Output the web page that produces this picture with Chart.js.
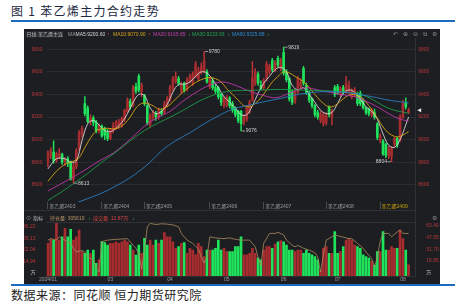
<!DOCTYPE html>
<html>
<head>
<meta charset="utf-8">
<script src="https://cdn.jsdelivr.net/npm/chart.js@4.4.1/dist/chart.umd.min.js"></script>
<style>
  html, body { margin: 0; padding: 0; background: #fff; width: 467px; height: 305px; overflow: hidden; position: relative; }
  #title { position: absolute; left: 11px; top: 4px; font: 12px/14px "Noto Sans CJK SC"; letter-spacing: 1.3px; color: #1b2840; white-space: nowrap; }
  #source { position: absolute; left: 11px; top: 288px; font: 12px/14px "Noto Sans CJK SC"; letter-spacing: 0.5px; color: #222; white-space: nowrap; }
  .rule { position: absolute; left: 11px; width: 444px; height: 2px; background: #1b6cc0; }
  #panel { position: absolute; left: 24px; top: 29px; width: 416px; height: 255px; background: #1d1e22; }
  .line { position: absolute; background: #303137; }
  canvas { position: absolute; }
  #tiny { position: absolute; left: 0; top: 0; width: 934px; height: 610px; transform: scale(0.5); transform-origin: 0 0;
          font-family: "Liberation Sans", "Noto Sans CJK SC"; font-size: 10px; white-space: nowrap; pointer-events: none; }
  #tiny span { position: absolute; line-height: 12px; }
  #tiny .ico { font-family: "DejaVu Sans"; font-size: 12px; color: #8c8c8c; }
</style>
</head>
<body>
<div id="title">图 1 苯乙烯主力合约走势</div>
<div class="rule" style="top:20px"></div>
<div id="panel"></div>
<div class="line" style="left:24px;top:210px;width:392px;height:1px"></div>
<div class="line" style="left:46px;top:222px;width:370px;height:1px"></div>
<div class="line" style="left:415px;top:38px;width:1px;height:238px"></div>
<canvas id="main" width="416" height="179" style="left:24px;top:38px"></canvas>
<canvas id="vol" width="416" height="62" style="left:24px;top:222px"></canvas>
<div class="rule" style="top:284px"></div>
<div id="source">数据来源：同花顺 恒力期货研究院</div>

<div id="tiny">
  <div style="position:absolute;left:50px;top:63px;width:76px;height:12px;background:#2a2b31;border-radius:2px"></div>
  <span style="left:53px;top:62.6px;color:#b5b5b5">日线 苯乙烯主连</span>
  <span style="left:136px;top:62.6px;color:#9a9a9a">MA</span>
  <span style="left:151px;top:62.6px;color:#d5d5d5">MA5:9200.60</span>
  <span style="left:214px;top:62.6px;color:#e04848">↑</span>
  <span style="left:226px;top:62.6px;color:#d6a51c">MA10:9070.90</span>
  <span style="left:296px;top:62.6px;color:#e04848">↑</span>
  <span style="left:306px;top:62.6px;color:#c23fae">MA20:9165.85</span>
  <span style="left:376px;top:62.6px;color:#25d05a">↓</span>
  <span style="left:384px;top:62.6px;color:#25a552">MA30:9233.93</span>
  <span style="left:455px;top:62.6px;color:#25d05a">↓</span>
  <span style="left:464px;top:62.6px;color:#2f8ad0">MA60:9325.88</span>
  <span style="left:534px;top:62.6px;color:#25d05a">↓</span>
  <span class="ico" style="left:786px;top:62px">↶</span>
  <span class="ico" style="left:806px;top:62px">⊕</span>
  <span class="ico" style="left:826px;top:62px">⊖</span>
  <span class="ico" style="left:846px;top:62px">⧉</span>
  <span class="ico" style="left:864px;top:62px">⚙</span>

  <span class="ico" style="left:52px;top:430px">⊙</span>
  <span style="left:66px;top:430.6px;color:#bdbdbd">指标</span>
  <span style="left:100px;top:430.6px;color:#b9996a">持仓量: 305619</span>
  <span style="left:176px;top:430.6px;color:#25d05a">↓</span>
  <span style="left:186px;top:430.6px;color:#d84444">成交量: 12.87万</span>
  <span style="left:264px;top:430.6px;color:#25d05a">↓</span>
  <span class="ico" style="left:864px;top:430px">⚙</span>
</div>

<script>
// daily OHLC, 2024-01-23 .. 2024-08-05 (trading-day index 0..127)
const opens = [
  8800, 8860, 8890, 8820, 8850, 8870, 8800, 8830, 8800, 8650, 8760, 8920, 9050, 9320, 9280, 9160,
  9190, 9150, 9080, 9120, 9100, 9060, 9010, 9080, 9110, 9120, 9130, 9180, 9250, 9340, 9300, 9470,
  9560, 9430, 9390, 9300, 9130, 9200, 9230, 9200, 9250, 9240, 9300, 9350, 9450, 9520, 9540, 9430,
  9500, 9450, 9520, 9500, 9560, 9540, 9600, 9600, 9600, 9470, 9520, 9460, 9460, 9400, 9300, 9310,
  9370, 9320, 9280, 9250, 9250, 9150, 9180, 9250, 9350, 9500, 9580, 9480, 9460, 9540, 9600, 9700,
  9610, 9720, 9630, 9770, 9600, 9540, 9420, 9340, 9420, 9470, 9630, 9480, 9420, 9360, 9300, 9240,
  9170, 9140, 9150, 9290, 9200, 9460, 9470, 9400, 9460, 9420, 9420, 9380, 9400, 9400, 9410, 9350,
  9280, 9270, 9220, 9240, 9140, 8990, 8990, 8960, 8860, 8850, 8960, 9010, 8990, 9200, 9330, 9240
];
const closes = [
  8880, 8900, 8810, 8870, 8880, 8800, 8820, 8790, 8650, 8760, 8900, 9060, 9100, 9230, 9160, 9190,
  9150, 9080, 9120, 9030, 9040, 9010, 9090, 9120, 9150, 9160, 9190, 9260, 9350, 9290, 9460, 9430,
  9440, 9480, 9320, 9150, 9210, 9240, 9200, 9260, 9230, 9320, 9360, 9460, 9540, 9560, 9500, 9490,
  9440, 9530, 9560, 9580, 9670, 9610, 9650, 9700, 9510, 9530, 9460, 9430, 9380, 9330, 9360, 9370,
  9300, 9260, 9220, 9170, 9140, 9200, 9280, 9330, 9550, 9600, 9500, 9450, 9520, 9670, 9650, 9620,
  9680, 9660, 9700, 9590, 9530, 9360, 9330, 9420, 9540, 9510, 9500, 9420, 9350, 9300, 9220, 9200,
  9230, 9220, 9210, 9220, 9250, 9400, 9420, 9450, 9420, 9500, 9480, 9430, 9440, 9320, 9320, 9280,
  9240, 9230, 9260, 9200, 9020, 9030, 8870, 8860, 8920, 8920, 9010, 8950, 9200, 9320, 9290, 9260
];
const highs = [
  8900, 8930, 8990, 8890, 8920, 8880, 8840, 8850, 8810, 8790, 8920, 9080, 9120, 9380, 9300, 9220,
  9210, 9170, 9140, 9130, 9110, 9090, 9100, 9150, 9170, 9180, 9200, 9270, 9370, 9360, 9480, 9500,
  9580, 9500, 9400, 9310, 9230, 9260, 9250, 9280, 9270, 9340, 9380, 9480, 9560, 9600, 9560, 9510,
  9510, 9550, 9580, 9600, 9690, 9640, 9680, 9780, 9620, 9550, 9540, 9490, 9470, 9410, 9380, 9390,
  9380, 9340, 9290, 9260, 9260, 9220, 9300, 9350, 9690, 9630, 9600, 9520, 9540, 9690, 9670, 9720,
  9700, 9740, 9720, 9819, 9620, 9550, 9440, 9440, 9560, 9540, 9650, 9500, 9430, 9370, 9310, 9260,
  9250, 9240, 9240, 9300, 9270, 9480, 9490, 9470, 9480, 9560, 9520, 9450, 9460, 9420, 9430, 9360,
  9290, 9280, 9280, 9270, 9150, 9050, 9000, 8970, 8940, 8940, 9020, 9020, 9220, 9350, 9370, 9280
];
const lows = [
  8760, 8830, 8790, 8800, 8830, 8780, 8770, 8760, 8640, 8613, 8740, 8900, 9020, 9210, 9150, 9130,
  9120, 9060, 9060, 9020, 9000, 8990, 9000, 9060, 9090, 9100, 9110, 9160, 9240, 9270, 9290, 9410,
  9420, 9380, 9300, 9130, 9109, 9170, 9170, 9180, 9210, 9230, 9290, 9340, 9430, 9500, 9480, 9410,
  9420, 9430, 9500, 9480, 9550, 9520, 9580, 9590, 9500, 9450, 9440, 9410, 9360, 9300, 9280, 9290,
  9280, 9240, 9200, 9150, 9076, 9130, 9160, 9230, 9340, 9480, 9480, 9440, 9440, 9520, 9580, 9600,
  9600, 9640, 9610, 9570, 9510, 9340, 9310, 9320, 9410, 9450, 9480, 9400, 9330, 9280, 9200, 9180,
  9150, 9120, 9130, 9200, 9130, 9380, 9400, 9380, 9400, 9410, 9400, 9360, 9380, 9300, 9300, 9270,
  9220, 9210, 9200, 9180, 9000, 8970, 8860, 8840, 8830, 8804, 8940, 8930, 8980, 9190, 9270, 9230
];
// trading volume, 万手
const volumes = [
  26.0, 28.5, 28.0, 38.3, 28.0, 30.0, 35.2, 30.0, 34.6, 28.0, 30.0, 34.2, 21.0, 20.0, 22.0, 20.0,
  22.0, 13.8, 15.9, 27.1, 26.5, 25.0, 26.0, 26.0, 27.0, 26.0, 27.0, 28.0, 27.0, 25.0, 22.0, 18.9,
  25.0, 20.0, 29.1, 25.0, 28.0, 25.0, 28.0, 26.0, 28.0, 32.6, 30.0, 30.0, 27.0, 23.0, 24.0, 26.0,
  26.5, 20.0, 23.0, 22.0, 19.0, 26.0, 24.0, 17.9, 22.0, 22.0, 22.0, 23.0, 28.0, 22.0, 23.0, 21.0,
  21.0, 21.0, 24.0, 24.0, 30.1, 19.0, 19.0, 20.0, 23.0, 20.0, 17.0, 15.9, 22.0, 24.0, 24.0, 23.0,
  25.6, 27.0, 27.7, 27.0, 25.0, 22.0, 22.0, 21.0, 22.0, 22.0, 20.0, 22.0, 20.0, 19.0, 18.0, 15.9,
  9.8, 23.0, 24.0, 20.0, 20.0, 33.2, 20.0, 21.0, 24.0, 28.0, 29.0, 28.0, 25.0, 24.0, 23.0, 19.0,
  18.0, 17.0, 15.0, 12.8, 21.0, 21.0, 33.2, 22.0, 22.0, 24.0, 23.0, 23.0, 34.2, 29.0, 22.0, 12.87
];
// open interest (万手), read at [index, value]
const openInterest = [
  [0, 44], [1, 46], [3, 44], [4, 48.5], [5, 46], [6, 44], [8, 39.5], [9, 33], [10, 28], [12, 30], [13, 28],
  [14, 21.5], [16, 17], [17, 6], [18, 1], [19, 42], [21, 44], [24, 45], [28, 46], [30, 37], [31, 33], [32, 26],
  [33, 5], [34, 30], [35, 62], [36, 66.5], [38, 65], [40, 66], [42, 65.5], [44, 64.5], [46, 62], [47, 53],
  [49, 44], [51, 39.5], [53, 32], [54, 22], [55, 13], [56, 21], [57, 48.5], [59, 47], [62, 46], [64, 47],
  [66, 45], [68, 44], [71, 44], [73, 35], [74, 21], [75, 10], [76, 40], [77, 46], [78, 53], [80, 53],
  [81, 54.5], [83, 51], [84, 44], [86, 37], [87, 35], [88, 37], [90, 33], [92, 30.5], [94, 27], [95, 21.5],
  [96, 1], [97, 25], [98, 44], [100, 48.5], [101, 51], [104, 48], [106, 46], [107, 46], [109, 39.5],
  [111, 33], [112, 28], [114, 19], [115, 8], [116, 21], [117, 42], [118, 53], [120, 53], [121, 48.5],
  [123, 55], [124, 57.5], [125, 53], [127, 53]
];

// moving averages, [index, value]
const ma5 = [
  [0, 8740], [3, 8830], [6, 8830], [8, 8800], [10, 8810], [12, 8990], [14, 9140], [16, 9170], [18, 9130],
  [20, 9080], [22, 9070], [24, 9100], [26, 9150], [28, 9230], [30, 9330], [32, 9400], [34, 9390], [36, 9280],
  [38, 9230], [40, 9250], [42, 9310], [44, 9420], [46, 9490], [48, 9490], [50, 9510], [52, 9560], [54, 9600],
  [56, 9590], [58, 9530], [60, 9460], [62, 9380], [64, 9330], [66, 9280], [68, 9220], [70, 9220], [72, 9300],
  [74, 9410], [76, 9500], [78, 9560], [80, 9620], [82, 9640], [84, 9600], [86, 9480], [88, 9440], [90, 9460],
  [92, 9400], [94, 9330], [96, 9260], [98, 9230], [100, 9240], [102, 9320], [104, 9410], [106, 9440],
  [108, 9420], [110, 9360], [112, 9290], [114, 9250], [116, 9180], [118, 9050], [120, 8950], [122, 8930],
  [124, 9000], [126, 9130], [127, 9200]
];
const ma10 = [
  [0, 8630], [3, 8720], [6, 8780], [9, 8810], [11, 8840], [13, 8930], [16, 9050], [18, 9090], [21, 9100],
  [23, 9095], [25, 9105], [27, 9140], [29, 9200], [31, 9280], [33, 9320], [35, 9320], [37, 9300], [39, 9270],
  [41, 9280], [43, 9310], [45, 9360], [47, 9410], [49, 9450], [51, 9490], [53, 9520], [55, 9540], [57, 9550],
  [59, 9540], [61, 9510], [63, 9450], [65, 9400], [67, 9350], [69, 9300], [71, 9290], [73, 9320], [75, 9370],
  [77, 9440], [79, 9510], [81, 9560], [83, 9600], [85, 9590], [87, 9560], [89, 9530], [91, 9490], [93, 9430],
  [95, 9370], [97, 9320], [99, 9290], [101, 9300], [103, 9340], [105, 9380], [107, 9400], [109, 9390],
  [111, 9360], [113, 9300], [115, 9230], [117, 9150], [119, 9080], [121, 9040], [123, 9025], [125, 9040],
  [127, 9071]
];
const ma20 = [
  [0, 8545], [4, 8600], [9, 8670], [13, 8730], [18, 8810], [23, 8880], [27, 8960], [31, 9050], [35, 9140],
  [39, 9200], [43, 9250], [47, 9330], [51, 9400], [55, 9460], [59, 9500], [62, 9510], [65, 9490], [68, 9460],
  [72, 9420], [76, 9390], [80, 9370], [84, 9400], [88, 9440], [91, 9460], [95, 9440], [99, 9420], [103, 9400],
  [108, 9380], [112, 9340], [116, 9290], [120, 9230], [124, 9180], [127, 9166]
];
const ma30 = [
  [0, 8460], [5, 8540], [9, 8610], [14, 8700], [19, 8800], [24, 8890], [29, 8990], [34, 9080], [39, 9150],
  [44, 9210], [49, 9280], [54, 9350], [59, 9400], [64, 9430], [70, 9435], [76, 9440], [82, 9445], [88, 9440],
  [94, 9435], [100, 9430], [105, 9420], [110, 9400], [114, 9360], [118, 9300], [122, 9260], [127, 9234]
];
const ma60 = [
  [0, 8330], [5, 8380], [10, 8440], [18, 8515], [24, 8590], [30, 8680], [36, 8800], [40, 8900], [45, 8990],
  [50, 9060], [55, 9140], [60, 9210], [65, 9270], [70, 9300], [76, 9335], [82, 9365], [88, 9400], [94, 9420],
  [100, 9425], [106, 9415], [112, 9390], [116, 9370], [121, 9345], [127, 9326]
];

const priceTicks = [8600, 8800, 9000, 9200, 9400, 9600, 9800];
const volTicks = [7.86, 14.94, 22.04, 29.13, 36.22];
const oiTicks = [0, 15.85, 31.70, 47.55, 63.40];
const contracts = [[0, "苯乙烯2403"], [19, "苯乙烯2404"], [34, "苯乙烯2405"], [57, "苯乙烯2406"],
                   [76, "苯乙烯2407"], [98, "苯乙烯2408"], [117, "苯乙烯2409"]];
const monthTicks = [[0, "2024/01"], [22, "03"], [43, "04"], [63, "05"], [83, "06"], [102, "07"], [125, "08"]];
const extremes = [[55, 9780, 1], [83, 9819, 1], [9, 8613, 1], [68, 9076, 1], [121, 8804, -1]];

const FONT = "'Liberation Sans', 'Noto Sans CJK SC'";
const RED = "#c23436";
const RED_BODY = "#a62c2f";
const GREEN = "#1fe35b";
const AXIS_RED = "#b8383b";
const idx = closes.map((_, i) => i);
// 128 trading days plus 2 empty slots on the right
const slots = Array.from({ length: 130 }, (_, i) => i);
const candleCol = idx.map((i) => (closes[i] >= opens[i] ? RED_BODY : GREEN));
const wickCol = idx.map((i) => (closes[i] >= opens[i] ? RED : GREEN));

function maLine(label, pts, color) {
  return {
    type: "line", label, data: pts.map(([x, y]) => ({ x, y })),
    borderColor: color, borderWidth: 0.9, pointRadius: 0, tension: 0.35, order: 0,
  };
}

function fixAxis(size) {
  return (s) => {
    if (s.isHorizontal()) s.height = size; else s.width = size;
    s.paddingTop = 0; s.paddingBottom = 0; s.paddingLeft = 0; s.paddingRight = 0;
  };
}

const marks = {
  id: "marks",
  afterDatasetsDraw(chart) {
    const { ctx, chartArea } = chart;
    const x = chart.scales.x, y = chart.scales.y;
    ctx.save();
    ctx.font = "5px " + FONT;
    ctx.fillStyle = "#cfcfcf";
    ctx.strokeStyle = "#cfcfcf";
    ctx.lineWidth = 0.7;
    ctx.textBaseline = "middle";
    extremes.forEach(([i, v, dir]) => {
      const px = x.getPixelForValue(i), py = y.getPixelForValue(v);
      const x0 = px + dir * 0.8, x1 = px + dir * 4;
      ctx.beginPath(); ctx.moveTo(x0, py); ctx.lineTo(x1, py); ctx.stroke();
      ctx.textAlign = dir > 0 ? "left" : "right";
      ctx.fillText(String(v), x1 + dir * 0.6, py);
    });
    // last price pointer on the right axis
    const ly = y.getPixelForValue(closes[closes.length - 1]);
    const rx = chartArea.right + 1.5;
    ctx.fillStyle = "#ececec";
    ctx.beginPath(); ctx.moveTo(rx, ly); ctx.lineTo(rx + 4, ly - 2); ctx.lineTo(rx + 4, ly + 2); ctx.closePath(); ctx.fill();
    ctx.restore();
  },
};

const priceAxis = (pos, width, pad) => ({
  position: pos, min: 8447, max: 9900,
  afterBuildTicks: (s) => { s.ticks = priceTicks.map((v) => ({ value: v })); },
  afterFit: fixAxis(width),
  grid: { display: pos === "left", color: "#2b2c31", lineWidth: 1, drawTicks: false },
  border: { display: false },
  ticks: { padding: pad, color: AXIS_RED, font: { size: 5, family: FONT }, callback: (v) => String(v) },
});

function slotAxis(marksList, height, tickLen, pad, colorFn) {
  return {
    type: "category", position: "bottom", offset: true,
    afterBuildTicks: (s) => { s.ticks = marksList.map(([v]) => ({ value: v })); },
    afterFit: fixAxis(height),
    grid: { offset: false, drawOnChartArea: false, drawTicks: true, tickLength: tickLen, color: "#55565c", lineWidth: 0.8 },
    border: { display: false },
    ticks: {
      autoSkip: false, maxRotation: 0, padding: pad, font: { size: 5, family: FONT }, color: colorFn,
      callback: (v) => { const m = marksList.find(([i]) => i === v); return m ? m[1] : ""; },
    },
  };
}

const mainX = slotAxis(contracts, 15, 7, -5.5, (c) => (c.tick && c.tick.value === 117 ? "#c9a300" : "#9b9b9b"));
mainX.ticks.align = "start";
mainX.ticks.callback = (v) => { const m = contracts.find(([i]) => i === v); return m ? " " + m[1] : ""; };

new Chart(document.getElementById("main"), {
  type: "bar",
  data: {
    labels: slots,
    datasets: [
      { label: "wick", data: idx.map((i) => ({ x: i, y: [lows[i], highs[i]] })), backgroundColor: wickCol,
        barThickness: 0.8, grouped: false, order: 2 },
      { label: "body", data: idx.map((i) => ({ x: i, y: [opens[i], closes[i]] })), backgroundColor: candleCol,
        barThickness: 2, grouped: false, minBarLength: 0.8, order: 1 },
      maLine("MA60", ma60, "#2a7fc2"),
      maLine("MA30", ma30, "#1f9a4a"),
      maLine("MA20", ma20, "#bf38aa"),
      maLine("MA10", ma10, "#d6a414"),
      maLine("MA5", ma5, "#d8d8d8"),
    ],
  },
  options: {
    responsive: false, animation: false, events: [],
    layout: { padding: 0 },
    plugins: { legend: { display: false }, tooltip: { enabled: false } },
    scales: {
      x: mainX,
      y: priceAxis("left", 22.5, 4),
      y1: priceAxis("right", 24.3, 2.5),
    },
  },
  plugins: [marks],
});

const volX = slotAxis(monthTicks, 8, 2, -1.5, "#9b9b9b");
volX.border = { display: true, color: "#303137" };

new Chart(document.getElementById("vol"), {
  type: "bar",
  data: {
    labels: slots,
    datasets: [
      { type: "line", label: "持仓量", data: openInterest.map(([x, y]) => ({ x, y })), yAxisID: "y1",
        borderColor: "#a98c5e", borderWidth: 0.8, pointRadius: 0, tension: 0, order: 0 },
      { label: "成交量", data: idx.map((i) => ({ x: i, y: volumes[i] })), yAxisID: "y",
        backgroundColor: candleCol, barThickness: 2, order: 1 },
    ],
  },
  options: {
    responsive: false, animation: false, events: [],
    layout: { padding: 0 },
    plugins: { legend: { display: false }, tooltip: { enabled: false } },
    scales: {
      x: volX,
      y: {
        position: "left", min: 6.09, max: 39.09,
        afterBuildTicks: (s) => { s.ticks = volTicks.map((v) => ({ value: v })); },
        afterFit: fixAxis(22.5),
        grid: { display: false }, border: { display: false },
        ticks: { padding: 3, font: { size: 5, family: FONT },
          color: (c) => (c.tick && c.tick.value === volTicks[0] ? "#bdbdbd" : AXIS_RED),
          callback: (v) => (v === volTicks[0] ? "万" : v.toFixed(2)) },
      },
      y1: {
        position: "right", min: -4.35, max: 68.4,
        afterBuildTicks: (s) => { s.ticks = oiTicks.map((v) => ({ value: v })); },
        afterFit: fixAxis(24.3),
        grid: { display: false }, border: { display: false },
        ticks: { padding: 2.5, font: { size: 5, family: FONT },
          color: (c) => (c.tick && c.tick.value === 0 ? "#bdbdbd" : AXIS_RED),
          callback: (v) => (v === 0 ? "万" : v.toFixed(2)) },
      },
    },
  },
});
</script>
</body>
</html>
